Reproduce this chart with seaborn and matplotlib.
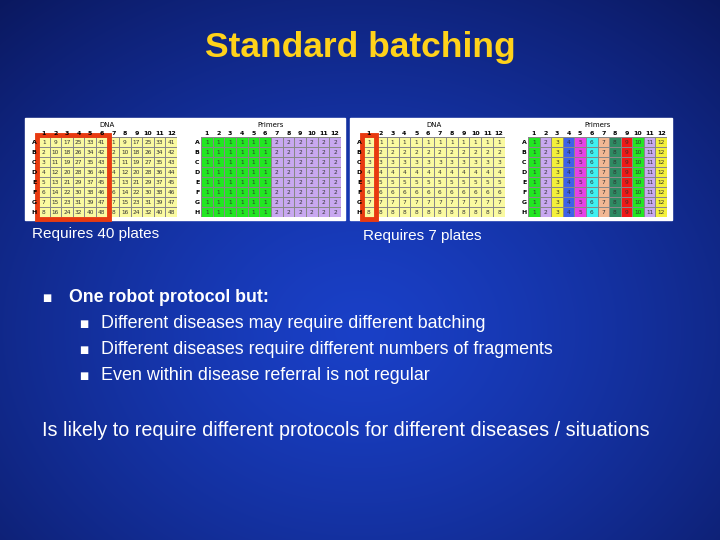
import numpy as np
import matplotlib
matplotlib.use("Agg")
import matplotlib.pyplot as plt
from matplotlib.colors import ListedColormap
from matplotlib.patches import Rectangle
import seaborn as sns

rows = ["A", "B", "C", "D", "E", "F", "G", "H"]
cols = ["1", "2", "3", "4", "5", "6", "7", "8", "9", "10", "11", "12"]

dna_left = [
    [1, 9, 17, 25, 33, 41, 1, 9, 17, 25, 33, 41],
    [2, 10, 18, 26, 34, 42, 2, 10, 18, 26, 34, 42],
    [3, 11, 19, 27, 35, 43, 3, 11, 19, 27, 35, 43],
    [4, 12, 20, 28, 36, 44, 4, 12, 20, 28, 36, 44],
    [5, 13, 21, 29, 37, 45, 5, 13, 21, 29, 37, 45],
    [6, 14, 22, 30, 38, 46, 6, 14, 22, 30, 38, 46],
    [7, 15, 23, 31, 39, 47, 7, 15, 23, 31, 39, 47],
    [8, 16, 24, 32, 40, 48, 8, 16, 24, 32, 40, 48],
]
prim_left_row = [1, 1, 1, 1, 1, 1, 2, 2, 2, 2, 2, 2]
prim_left = [prim_left_row] * 8
dna_right = [[1] * 12, [2] * 12, [3] * 12, [4] * 12,
             [5] * 12, [6] * 12, [7] * 12, [8] * 12]
prim_right_row = [1, 2, 3, 4, 5, 6, 7, 8, 9, 10, 11, 12]
prim_right = [prim_right_row] * 8

prim_colors = ["#22e622", "#c8a8f0", "#f4f03a", "#3e62e8", "#e642e6", "#3ef0f0",
               "#f2b894", "#2e8a62", "#f01818", "#22e622", "#c8a8f0", "#f4f03a"]
dna_color = "#fafaa0"

fig = plt.figure(figsize=(7.2, 5.4), dpi=100)
bg = fig.add_axes([0, 0, 1, 1])
yy, xx = np.mgrid[0:540, 0:720]
d = np.sqrt(((xx - 360) / 560) ** 2 + ((yy - 330) / 450) ** 2)
d = np.clip(d, 0, 1) ** 1.3
c0 = np.array([0.10, 0.25, 0.78]); c1 = np.array([0.04, 0.09, 0.36])
img = c0[None, None, :] * (1 - d[..., None]) + c1[None, None, :] * d[..., None]
bg.imshow(img, extent=[0, 720, 540, 0], aspect="auto")
bg.set_xlim(0, 720); bg.set_ylim(540, 0); bg.axis("off")

bg.add_patch(Rectangle((25, 118), 320, 102, color="white", zorder=2))
bg.add_patch(Rectangle((350, 118), 322, 102, color="white", zorder=2))

def fax(x0, y0, x1, y1):
    return fig.add_axes([x0 / 720, 1 - y1 / 540, (x1 - x0) / 720, (y1 - y0) / 540])

def plate(ax, vals, cats, colors, title):
    vals = np.array(vals); cats = np.array(cats)
    sns.heatmap(cats, ax=ax, cmap=ListedColormap(colors), vmin=-0.5, vmax=len(colors) - 0.5,
                cbar=False, annot=vals, fmt="d", annot_kws={"fontsize": 4.2, "color": "#333333"},
                linewidths=0.4, linecolor="#888888", xticklabels=cols, yticklabels=rows)
    ax.xaxis.tick_top()
    ax.tick_params(length=0, labelsize=4.5, pad=1)
    for t in ax.get_xticklabels() + ax.get_yticklabels():
        t.set_fontweight("bold"); t.set_rotation(0)
    ax.set_title(title, fontsize=5, pad=7)

a1 = fax(38, 137, 177, 217)
plate(a1, dna_left, np.zeros((8, 12), int), [dna_color], "DNA")
a1.add_patch(Rectangle((-0.1, -0.25), 6.2, 8.4, fill=False, ec="#e83a10", lw=3.5, clip_on=False))
a2 = fax(201, 137, 341, 217)
plate(a2, prim_left, np.array(prim_left) - 1, ["#22e622", "#c8a8f0"], "Primers")
a3 = fax(363, 137, 505, 217)
plate(a3, dna_right, np.zeros((8, 12), int), [dna_color], "DNA")
a3.add_patch(Rectangle((-0.1, -0.25), 1.2, 8.4, fill=False, ec="#e83a10", lw=3.5, clip_on=False))
a4 = fax(528, 137, 667, 217)
plate(a4, prim_right, np.array(prim_right) - 1, prim_colors, "Primers")

fam = "Liberation Sans"
bg.text(360, 48, "Standard batching", color="#ffd21a", fontsize=25.5, fontweight="bold",
        ha="center", va="center", family=fam, zorder=5)
bg.text(32, 234, "Requires 40 plates", color="white", fontsize=11, va="center", family=fam, zorder=5)
bg.text(363, 236, "Requires 7 plates", color="white", fontsize=11, va="center", family=fam, zorder=5)
bg.text(42, 298, "■", color="white", fontsize=7, va="center", zorder=5)
bg.text(69, 298, "One robot protocol but:", color="white", fontsize=12.8, fontweight="bold",
        va="center", family=fam, zorder=5)
subs = ["Different diseases may require different batching",
        "Different diseases require different numbers of fragments",
        "Even within disease referral is not regular"]
for i, s in enumerate(subs):
    y = 324 + 26 * i
    bg.text(79, y, "■", color="white", fontsize=7, va="center", zorder=5)
    bg.text(101, y, s, color="white", fontsize=12.9, va="center", family=fam, zorder=5)
bg.text(42, 430, "Is likely to require different protocols for different diseases / situations",
        color="white", fontsize=14.2, va="center", family=fam, zorder=5)

fig.savefig("out.png", dpi=100)
